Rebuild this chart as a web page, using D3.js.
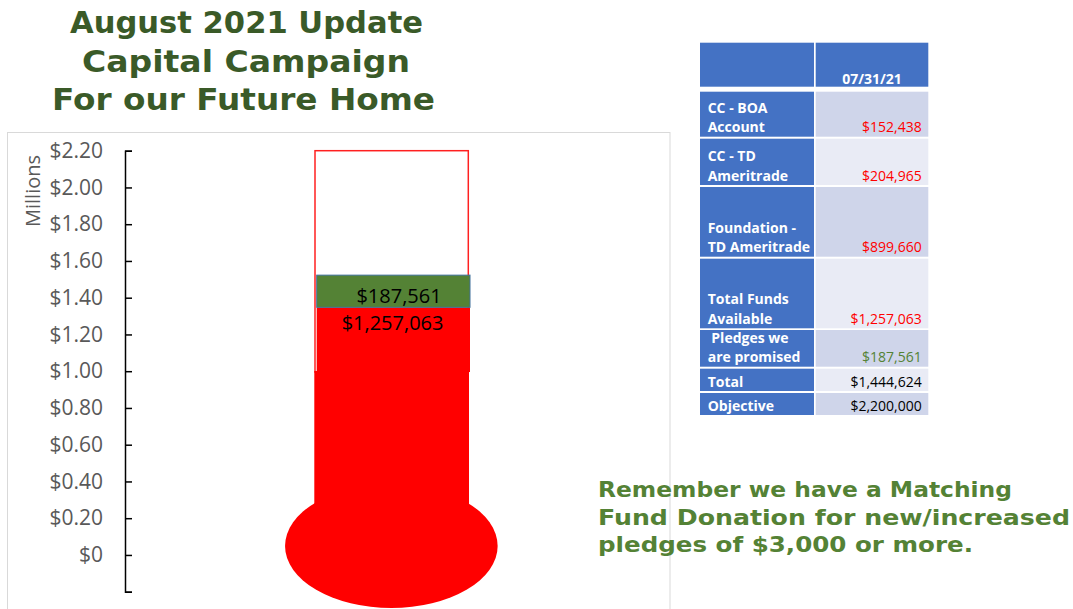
<!DOCTYPE html>
<html>
<head>
<meta charset="utf-8">
<script src="https://cdn.jsdelivr.net/npm/d3@7/dist/d3.min.js"></script>
<style>
  html, body { margin: 0; padding: 0; background: #fff; }
  svg { display: block; }
</style>
</head>
<body>
<svg id="chart" width="1073" height="609"></svg>
<script>
// ---------------- DATA ----------------
const categories = ["Capital Campaign"];
const fundsAvailable = [1257063];
const pledges = [187561];
const objective = [2200000];
const yTickValues = [-0.2, 0, 0.2, 0.4, 0.6, 0.8, 1.0, 1.2, 1.4, 1.6, 1.8, 2.0, 2.2];
const yTickLabels = ["", "$0", "$0.20", "$0.40", "$0.60", "$0.80", "$1.00", "$1.20", "$1.40", "$1.60", "$1.80", "$2.00", "$2.20"];
const yAxisTitle = "Millions";
const titleLines = ["August 2021 Update", "Capital Campaign", "For our Future Home"];
const noteLines = ["Remember we have a Matching", "Fund Donation for new/increased", "pledges of $3,000 or more."];
const tableHeader = "07/31/21";
const tableRowLabels = [
  ["CC - BOA", "Account"],
  ["CC - TD", "Ameritrade"],
  ["Foundation -", "TD Ameritrade"],
  ["Total Funds", "Available"],
  ["\u00a0Pledges we", "are promised"],
  ["Total"],
  ["Objective"]
];
const tableRowValues = [152438, 204965, 899660, 1257063, 187561, 1444624, 2200000];
const tableRowKinds = ["funds", "funds", "funds", "funds", "pledge", "plain", "plain"];

// ---------------- LAYOUT / STYLE ----------------
const svg = d3.select("#chart");
const axisX = 125;
const fmtMoney = v => "$" + d3.format(",")(v);

// chart area border
svg.append("rect").attr("x", 7.5).attr("y", 132.5).attr("width", 662.5).attr("height", 500)
  .attr("fill", "#fff").attr("stroke", "#d9d9d9").attr("stroke-width", 1);

// scales
const y = d3.scaleLinear().domain([-0.2, 2.2]).range([591.7, 150.7]);
const yBar = d3.scaleLinear().domain([0.88, 2.17]).range([372, 150.7]).clamp(true);
const x = d3.scaleBand().domain(categories).range([316.7, 470]).padding(0);

const cat = categories[0];
const bx = x(cat), bw = x.bandwidth();
const cx = bx + bw / 2;

// thermometer outline (objective)
svg.append("rect")
  .attr("x", bx - 1.7).attr("y", y(objective[0] / 1e6))
  .attr("width", bw).attr("height", yBar(0) - y(objective[0] / 1e6))
  .attr("fill", "#fff").attr("stroke", "#ff2020").attr("stroke-width", 1.5);

// thermometer column fill below bars
svg.append("rect")
  .attr("x", bx - 2.4).attr("y", yBar(0) - 1)
  .attr("width", bw + 1.4).attr("height", 546 - yBar(0))
  .attr("fill", "#ff0000");

// bulb
svg.append("ellipse")
  .attr("cx", cx - 2).attr("cy", 546).attr("rx", 106.3).attr("ry", 62)
  .attr("fill", "#ff0000");

// stacked bars
svg.append("rect")
  .attr("x", bx).attr("y", yBar(fundsAvailable[0] / 1e6))
  .attr("width", bw).attr("height", yBar(0) - yBar(fundsAvailable[0] / 1e6))
  .attr("fill", "#ff0000");
const topTotal = (fundsAvailable[0] + pledges[0]) / 1e6;
svg.append("rect")
  .attr("x", bx).attr("y", yBar(topTotal))
  .attr("width", bw).attr("height", yBar(fundsAvailable[0] / 1e6) - yBar(topTotal))
  .attr("fill", "#548235").attr("stroke", "#41719c").attr("stroke-width", 1);

// data labels
svg.append("text").attr("x", cx + 5.7).attr("y", yBar(topTotal) + 28)
  .attr("text-anchor", "middle").attr("font-family", "'Open Sans', sans-serif")
  .attr("font-size", 20).attr("fill", "#000").text(fmtMoney(pledges[0]));
svg.append("text").attr("x", cx - 0.8).attr("y", yBar(fundsAvailable[0] / 1e6) + 23)
  .attr("text-anchor", "middle").attr("font-family", "'Open Sans', sans-serif")
  .attr("font-size", 20).attr("fill", "#000").text(fmtMoney(fundsAvailable[0]));

// y axis
const yAxis = d3.axisLeft(y)
  .tickValues(yTickValues)
  .tickFormat((d, i) => yTickLabels[i])
  .tickSizeInner(-7).tickSizeOuter(-7).tickPadding(22);
const gAxis = svg.append("g").attr("transform", `translate(${axisX},0)`).call(yAxis);
gAxis.select(".domain").attr("stroke", "#000").attr("stroke-width", 1.5);
gAxis.selectAll(".tick line").attr("stroke", "#000").attr("stroke-width", 1.5);
gAxis.selectAll(".tick text")
  .attr("font-family", "'Open Sans', sans-serif").attr("font-size", 21)
  .attr("fill", "#595959");

svg.append("text")
  .attr("transform", "translate(40,191) rotate(-90)")
  .attr("text-anchor", "middle")
  .attr("font-family", "'Open Sans', sans-serif").attr("font-size", 20)
  .attr("fill", "#595959").text(yAxisTitle);

// title
const titleLayout = [{x: 70, y: 33.3, w: 353}, {x: 82, y: 71.7, w: 328}, {x: 52, y: 110, w: 383}];
svg.selectAll("text.title").data(titleLines).join("text")
  .attr("class", "title")
  .attr("x", (d, i) => titleLayout[i].x).attr("y", (d, i) => titleLayout[i].y)
  .attr("textLength", (d, i) => titleLayout[i].w).attr("lengthAdjust", "spacingAndGlyphs")
  .attr("font-family", "'DejaVu Sans', sans-serif").attr("font-size", 30)
  .attr("font-weight", "bold")
  .attr("fill", "#3a5a28").text(d => d);

// note
const noteLayout = [{y: 496.7, w: 414}, {y: 524.8, w: 472}, {y: 551.7, w: 375}];
svg.selectAll("text.note").data(noteLines).join("text")
  .attr("class", "note")
  .attr("x", 598).attr("y", (d, i) => noteLayout[i].y)
  .attr("textLength", (d, i) => noteLayout[i].w).attr("lengthAdjust", "spacingAndGlyphs")
  .attr("font-family", "'DejaVu Sans', sans-serif").attr("font-size", 21)
  .attr("font-weight", "bold")
  .attr("fill", "#548235").text(d => d);

// table
const col1 = {x: 700, w: 114}, col2 = {x: 815.7, w: 112.6};
const headerBox = {y: 42.7, h: 44};
const rowBoxes = [
  {y: 91.7, h: 45}, {y: 138.7, h: 46.3}, {y: 187, h: 69.7}, {y: 258.7, h: 69.6},
  {y: 330, h: 36.7}, {y: 368.7, h: 22.3}, {y: 393, h: 22}
];
const blue = "#4472c4";
const valueFills = ["#cfd5ea", "#e9ebf5"];
const kindColor = {funds: "#ff0000", pledge: "#548235", plain: "#000000"};
const tableFont = "'Open Sans', sans-serif";

const gT = svg.append("g");
gT.append("rect").attr("x", col1.x).attr("y", headerBox.y).attr("width", col1.w).attr("height", headerBox.h).attr("fill", blue);
gT.append("rect").attr("x", col2.x).attr("y", headerBox.y).attr("width", col2.w).attr("height", headerBox.h).attr("fill", blue);
gT.append("text").attr("x", col2.x + col2.w / 2).attr("y", headerBox.y + headerBox.h - 3)
  .attr("text-anchor", "middle").attr("font-family", tableFont).attr("font-weight", "bold")
  .attr("font-size", 14).attr("fill", "#fff").text(tableHeader);

tableRowLabels.forEach((lines, i) => {
  const rb = rowBoxes[i];
  gT.append("rect").attr("x", col1.x).attr("y", rb.y).attr("width", col1.w).attr("height", rb.h).attr("fill", blue);
  gT.append("rect").attr("x", col2.x).attr("y", rb.y).attr("width", col2.w).attr("height", rb.h).attr("fill", valueFills[i % 2]);
  const base = rb.y + rb.h - 4.5;
  lines.forEach((ln, j) => {
    gT.append("text").attr("x", 707.7).attr("y", base - (lines.length - 1 - j) * 19.5)
      .attr("font-family", tableFont).attr("font-weight", "bold").attr("font-size", 14)
      .attr("fill", "#fff").text(ln);
  });
  gT.append("text").attr("x", 921.7).attr("y", base)
    .attr("text-anchor", "end").attr("font-family", tableFont).attr("font-size", 14)
    .attr("fill", kindColor[tableRowKinds[i]]).text(fmtMoney(tableRowValues[i]));
});
</script>
</body>
</html>
